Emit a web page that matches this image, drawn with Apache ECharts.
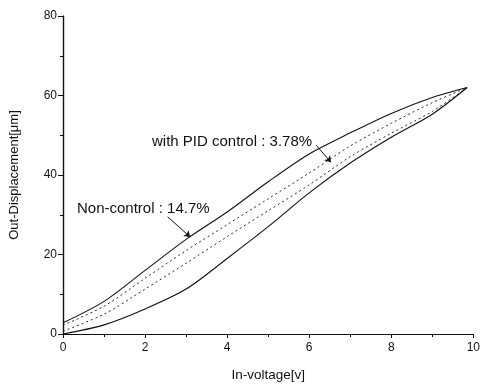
<!DOCTYPE html>
<html>
<head>
<meta charset="utf-8">
<script src="https://cdn.jsdelivr.net/npm/echarts@6/dist/echarts.min.js"></script>
<style>
  html, body { margin: 0; padding: 0; background: #fff; }
  #chart { width: 483px; height: 387px; }
</style>
</head>
<body>
<div id="chart"></div>
<script>
// input voltage [V]
const voltage = [0, 1, 2, 3, 4, 5, 6, 7, 8, 9, 9.85];
// non-control hysteresis loop (solid)
const nonCtrlUpper = [2.8, 8.2, 16, 23.8, 30.7, 38.3, 45.3, 50.6, 55.5, 59.5, 62];
const nonCtrlLower = [0, 2.3, 6.3, 11.3, 19, 27, 35.5, 43, 49.5, 55.3, 62];
// PID control loop (dashed)
const pidUpper = [2.2, 7, 14, 21, 27.5, 34, 40.5, 47.3, 53, 58.2, 62];
const pidLower = [0.7, 5, 11.3, 17.8, 24.5, 31, 37.5, 44.6, 50.5, 56, 62];

const xTicks = [0, 2, 4, 6, 8, 10];
const yTicks = [0, 20, 40, 60, 80];

const pairs = ys => voltage.map((v, i) => [v, ys[i]]);

const font = 'Liberation Sans, Arial, sans-serif';
const black = '#111';

const chart = echarts.init(document.getElementById('chart'));

const lineSeries = (name, ys, dashed) => ({
  name: name,
  type: 'line',
  data: pairs(ys),
  smooth: 0.3,
  symbol: 'none',
  lineStyle: {color: black, width: dashed ? 0.9 : 1.1, type: dashed ? [2, 3] : 'solid'}
});

chart.setOption({
  animation: false,
  grid: {left: 61, right: 7, top: 16, bottom: 51},
  xAxis: [{
    type: 'value', min: 0, max: 10, interval: 2,
    name: 'In-voltage[v]', nameLocation: 'middle', nameGap: 34,
    nameTextStyle: {color: black, fontFamily: font, fontSize: 13.5},
    axisLine: {lineStyle: {color: black, width: 1.2}},
    axisTick: {inside: false, length: 4, lineStyle: {color: black}},
    minorTick: {show: true, splitNumber: 2, length: 3, lineStyle: {color: black}},
    axisLabel: {color: black, fontFamily: font, fontSize: 12, margin: 8,
      formatter: v => xTicks.includes(v) ? String(v) : ''},
    splitLine: {show: false}
  }, {
    type: 'value', min: 0, max: 10, interval: 2, position: 'top',
    axisLine: {lineStyle: {color: black, width: 1.2}},
    axisTick: {inside: true, length: 3, lineStyle: {color: black}},
    minorTick: {show: true, splitNumber: 2, length: 2, lineStyle: {color: black}},
    axisLabel: {show: false},
    splitLine: {show: false}
  }],
  yAxis: [{
    type: 'value', min: 0, max: 80, interval: 20,
    name: 'Out-Displacement[\u03bcm]', nameLocation: 'middle', nameGap: 42,
    nameTextStyle: {color: black, fontFamily: font, fontSize: 13},
    axisLine: {lineStyle: {color: black, width: 1.2}},
    axisTick: {inside: false, length: 5, lineStyle: {color: black}},
    minorTick: {show: true, splitNumber: 2, length: 3, lineStyle: {color: black}},
    axisLabel: {color: black, fontFamily: font, fontSize: 12, margin: 6,
      formatter: v => yTicks.includes(v) ? String(v) : ''},
    splitLine: {show: false}
  }, {
    type: 'value', min: 0, max: 80, interval: 20, position: 'right',
    axisLine: {lineStyle: {color: black, width: 1.2}},
    axisTick: {inside: true, length: 3, lineStyle: {color: black}},
    minorTick: {show: true, splitNumber: 2, length: 2, lineStyle: {color: black}},
    axisLabel: {show: false},
    splitLine: {show: false}
  }],
  series: [
    lineSeries('Non-control up', nonCtrlUpper, false),
    lineSeries('Non-control down', nonCtrlLower, false),
    lineSeries('PID up', pidUpper, true),
    lineSeries('PID down', pidLower, true),
    {
      type: 'line', data: [], silent: true,
      markLine: {
        silent: true,
        symbol: ['none', 'arrow'],
        symbolSize: 6,
        label: {show: false},
        lineStyle: {color: black, width: 1, type: 'solid'},
        data: [
          [{coord: [2.55, 29.5]}, {coord: [3.1, 24.4]}],
          [{coord: [6.17, 47.5]}, {coord: [6.53, 43.2]}]
        ]
      }
    }
  ],
  graphic: [
    {type: 'text', left: 77, top: 201,
      style: {text: 'Non-control : 14.7%', fill: black, font: '15px ' + font}},
    {type: 'text', left: 152, top: 134,
      style: {text: 'with PID control : 3.78%', fill: black, font: '15px ' + font}}
  ]
});
</script>
</body>
</html>
